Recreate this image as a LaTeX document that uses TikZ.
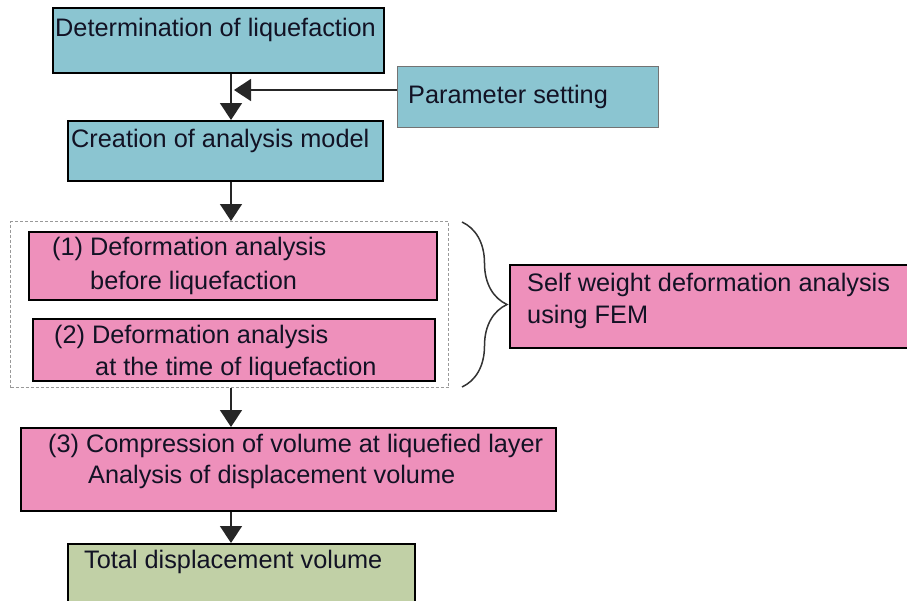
\documentclass[tikz,border=0pt]{standalone}
\usepackage{fontspec}
\setmainfont{Liberation Sans}
\usetikzlibrary{arrows.meta, calc, decorations.pathreplacing}
\definecolor{tealfill}{RGB}{139,197,209}
\definecolor{pinkfill}{RGB}{238,144,187}
\definecolor{greenfill}{RGB}{193,208,166}
\definecolor{inkc}{RGB}{18,18,36}

\begin{document}
\begin{tikzpicture}[x=1pt, y=-1pt,
    box/.style={draw=black, line width=1.6pt, anchor=north west, inner sep=0pt},
    txt/.style={anchor=base west, inner sep=0pt, text=inkc,
      font=\fontsize{25.3}{32}\selectfont},
    arr/.style={draw=black!85, line width=1.5pt, -{Triangle[length=17pt, width=22pt]}}]
                  \useasboundingbox (0,0) rectangle (907,600);
                  \clip (0,0) rectangle (907,600);

                  % boxes
                  \node[box, fill=tealfill, minimum width=331pt, minimum height=65pt] (det) at (52,7) {};
                  \node[box, fill=tealfill, draw=black!55, line width=1.1pt, minimum width=261pt, minimum height=61pt] (param) at (397,66) {};
                  \node[box, fill=tealfill, minimum width=315pt, minimum height=60pt] (model) at (67,120) {};
                  \node[box, draw=black!40, line width=1pt, dash pattern=on 3pt off 2pt, minimum width=438pt, minimum height=166pt] (group) at (10,221) {};
                  \node[box, fill=pinkfill, minimum width=408pt, minimum height=68pt] (defa) at (28,231) {};
                  \node[box, fill=pinkfill, minimum width=402pt, minimum height=62pt] (defb) at (32,318) {};
                  \node[box, fill=pinkfill, minimum width=410pt, minimum height=83pt] (fem) at (509,264) {};
                  \node[box, fill=pinkfill, minimum width=535pt, minimum height=83pt] (comp) at (20,427) {};
                  \node[box, fill=greenfill, minimum width=347pt, minimum height=70pt] (total) at (67,543) {};

                  % texts
                  \node[txt] (detT) at (55,36) {Determination of liquefaction};
                  \node[txt] (paramT) at (408,103) {Parameter setting};
                  \node[txt] (modelT) at (71,147) {Creation of analysis model};
                  \node[txt] (defaT) at (52,255) {(1) Deformation analysis};
                  \node[txt] (defaU) at (90,289) {before liquefaction};
                  \node[txt] (defbT) at (54,343) {(2) Deformation analysis};
                  \node[txt] (defbU) at (95,375) {at the time of liquefaction};
                  \node[txt] (femT) at (527,291) {Self weight deformation analysis};
                  \node[txt] (femU) at (527,323) {using FEM};
                  \node[txt] (compT) at (48,452) {(3) Compression of volume at liquefied layer};
                  \node[txt] (compU) at (88,483) {Analysis of displacement volume};
                  \node[txt] (totalT) at (84,568) {Total displacement volume};

                  % connectors
                  \coordinate (spine) at (231,0);
                  \coordinate (hit) at (234,90);
                  \draw[arr] (det.south -| spine) -- (model.north -| spine);
                  \draw[arr] (param.west |- hit) -- (hit);
                  \draw[arr] (model.south -| spine) -- (group.north -| spine);
                  \draw[arr] (group.south -| spine) -- (comp.north -| spine);
                  \draw[arr] (comp.south -| spine) -- (total.north -| spine);

                  \coordinate (braceTop) at (462,222);
                  \coordinate (braceBot) at (462,387);
                  \draw[black!80, line width=1.5pt, decorate, decoration={brace, amplitude=45pt}] (braceTop) -- (braceBot);
              \end{tikzpicture}
\end{document}
